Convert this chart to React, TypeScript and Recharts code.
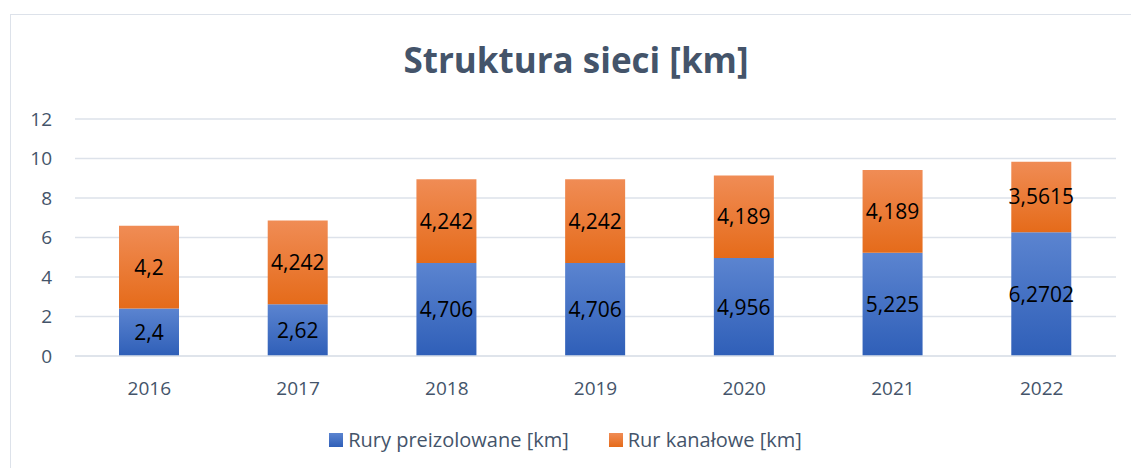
import React from 'react';
import { BarChart, Bar, XAxis, YAxis, CartesianGrid, Legend, LabelList } from 'recharts';

const years = ['2016', '2017', '2018', '2019', '2020', '2021', '2022'];
const preizolowane = [2.4, 2.62, 4.706, 4.706, 4.956, 5.225, 6.2702];
const kanalowe = [4.2, 4.242, 4.242, 4.242, 4.189, 4.189, 3.5615];
const yTicks = [0, 2, 4, 6, 8, 10, 12];
const seriesNames = ['Rury preizolowane [km]', 'Rur kanałowe [km]'];

const data = years.map((y, i) => ({ year: y, a: preizolowane[i], b: kanalowe[i] }));

const FONT = 'Open Sans, Noto Sans, sans-serif';
const fmt = (v: any) => String(v).replace('.', ',');

const LegendContent = () => (
  <div style={{ display: 'flex', justifyContent: 'center', gap: 40, fontFamily: FONT, fontSize: 20, color: '#44546a' }}>
    {[
      { name: seriesNames[0], bg: 'linear-gradient(#5b84d0,#2f5fb8)' },
      { name: seriesNames[1], bg: 'linear-gradient(#f08c55,#e56b1a)' },
    ].map((it) => (
      <div key={it.name} style={{ display: 'flex', alignItems: 'center' }}>
        <span style={{ display: 'inline-block', width: 14, height: 14, background: it.bg, marginRight: 5 }} />
        <span>{it.name}</span>
      </div>
    ))}
  </div>
);

export default function App() {
  return (
    <div style={{ position: 'absolute', left: 0, top: 0, width: 1131, height: 468, background: '#fff', overflow: 'hidden' }}>
      <div style={{ position: 'absolute', left: 10, top: 14, width: 1140, height: 470, border: '1.5px solid #dde2ea', boxSizing: 'border-box' }} />
      <div style={{ position: 'absolute', left: 0, top: 36, width: 1152, textAlign: 'center', fontFamily: FONT, fontWeight: 700, fontSize: 35, color: '#44546a', lineHeight: '48px' }}>
        Struktura sieci [km]
      </div>
      <BarChart
        width={1131}
        height={468}
        data={data}
        barSize={60}
        margin={{ top: 119, right: 15, bottom: 82, left: 0 }}
        style={{ position: 'absolute', left: 0, top: 0 }}
      >
        <defs>
          <linearGradient id="gBlue" x1="0" y1="0" x2="0" y2="1">
            <stop offset="0%" stopColor="#5b84d0" />
            <stop offset="100%" stopColor="#2f5fb8" />
          </linearGradient>
          <linearGradient id="gOrange" x1="0" y1="0" x2="0" y2="1">
            <stop offset="0%" stopColor="#f08c55" />
            <stop offset="100%" stopColor="#e56b1a" />
          </linearGradient>
        </defs>
        <CartesianGrid vertical={false} stroke="#dde2ea" strokeWidth={1.5} />
        <XAxis
          dataKey="year"
          axisLine={{ stroke: '#dde2ea', strokeWidth: 1.5 }}
          tickLine={false}
          tick={{ fill: '#44546a', fontSize: 19, fontFamily: FONT }}
          tickMargin={20}
          height={30}
        />
        <YAxis
          domain={[0, 12]}
          ticks={yTicks}
          axisLine={false}
          tickLine={false}
          tickSize={0}
          tickMargin={23}
          width={75}
          tick={{ fill: '#44546a', fontSize: 19, fontFamily: FONT }}
        />
        <Legend layout="horizontal" verticalAlign="middle" align="center" content={<LegendContent />} wrapperStyle={{ top: 426, left: 0, width: 1131 }} />
        <Bar dataKey="a" name={seriesNames[0]} stackId="s" fill="url(#gBlue)" isAnimationActive={false}>
          <LabelList dataKey="a" position="center" formatter={fmt} fill="#000" fontSize={21} fontFamily={FONT} />
        </Bar>
        <Bar dataKey="b" name={seriesNames[1]} stackId="s" fill="url(#gOrange)" isAnimationActive={false}>
          <LabelList dataKey="b" position="center" formatter={fmt} fill="#000" fontSize={21} fontFamily={FONT} />
        </Bar>
      </BarChart>
    </div>
  );
}
